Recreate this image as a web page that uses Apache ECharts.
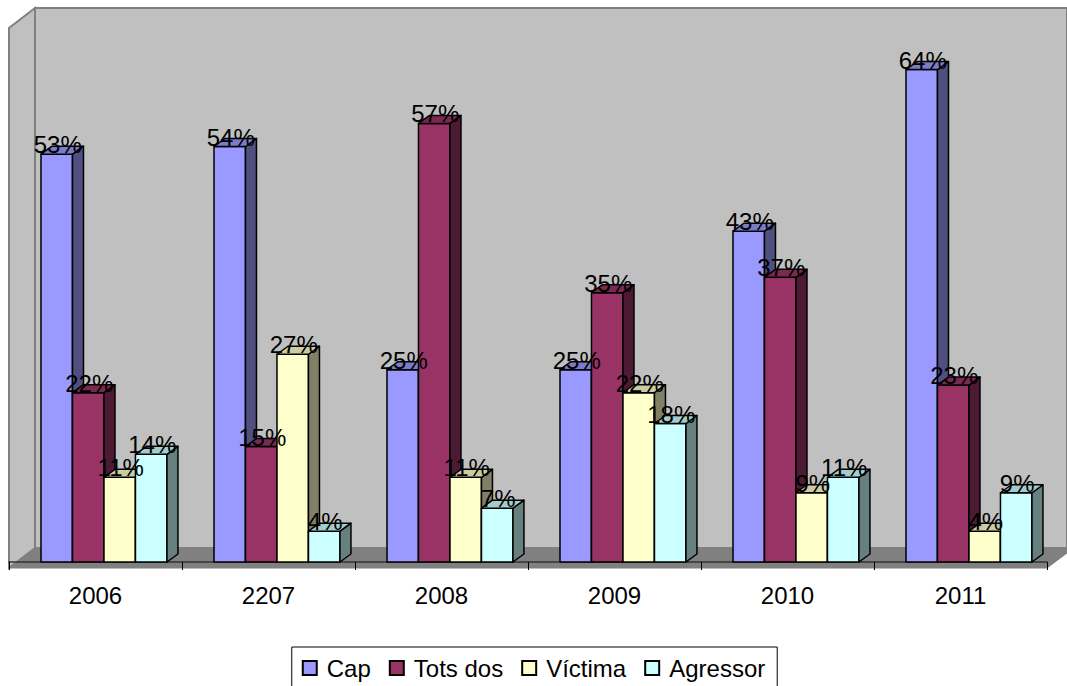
<!DOCTYPE html>
<html>
<head>
<meta charset="utf-8">
<script src="https://cdn.jsdelivr.net/npm/echarts@6/dist/echarts.min.js"></script>
<style>
html,body{margin:0;padding:0;background:#fff;}
#chart{width:1067px;height:686px;}
</style>
</head>
<body>
<div id="chart"></div>
<script>
// ---- data ----
const categories = ['2006', '2207', '2008', '2009', '2010', '2011'];
const seriesNames = ['Cap', 'Tots dos', 'Víctima', 'Agressor'];
const capValues = [53, 54, 25, 25, 43, 64];
const totsDosValues = [22, 15, 57, 35, 37, 23];
const victimaValues = [11, 27, 11, 22, 9, 4];
const agressorValues = [14, 4, 7, 18, 11, 9];

// ---- styles ----
const FONT = '"Liberation Sans", Arial, sans-serif';
const palettes = [
  { front: '#9999FF', top: '#7B7BCC', side: '#4F4F80' },
  { front: '#993366', top: '#7A2952', side: '#4D1A33' },
  { front: '#FFFFCC', top: '#CCCCA3', side: '#808066' },
  { front: '#CCFFFF', top: '#A3CCCC', side: '#668080' }
];
const allValues = [capValues, totsDosValues, victimaValues, agressorValues];
const DX = 11, DY = 8;

function barGeom(api, j) {
  const i = api.value(0), v = api.value(1);
  const base = api.coord([i, 0]);
  const top = api.coord([i, v]);
  const w = api.size([1, 0])[0];
  const bw = w * 0.182;
  const left = base[0] - w * 0.315 + j * bw;
  return { left, bw, yTop: top[1], yBase: base[1] };
}

function makeBarRender(j) {
  const p = palettes[j];
  return function (params, api) {
    const g = barGeom(api, j);
    const stroke = { stroke: '#000', lineWidth: 1.5, lineJoin: 'round' };
    return {
      type: 'group',
      children: [
        { type: 'rect', shape: { x: g.left, y: g.yTop, width: g.bw, height: g.yBase - g.yTop },
          style: Object.assign({ fill: p.front }, stroke) },
        { type: 'polygon', shape: { points: [[g.left + g.bw, g.yTop], [g.left + g.bw + DX, g.yTop - DY], [g.left + g.bw + DX, g.yBase - DY], [g.left + g.bw, g.yBase]] },
          style: Object.assign({ fill: p.side }, stroke) },
        { type: 'polygon', shape: { points: [[g.left, g.yTop], [g.left + DX, g.yTop - DY], [g.left + g.bw + DX, g.yTop - DY], [g.left + g.bw, g.yTop]] },
          style: Object.assign({ fill: p.top }, stroke) }
      ]
    };
  };
}

function makeLabelRender(j) {
  return function (params, api) {
    const g = barGeom(api, j);
    return {
      type: 'text',
      x: g.left + g.bw / 2 + 1,
      y: g.yTop - 9.5,
      style: { text: api.value(1) + '%', fill: '#000', font: '24px ' + FONT, align: 'center', verticalAlign: 'middle' }
    };
  };
}

const series = [];
allValues.forEach((vals, j) => {
  series.push({
    name: seriesNames[j], type: 'custom', z: 3,
    itemStyle: { color: palettes[j].front, borderColor: '#000', borderWidth: 1 },
    renderItem: makeBarRender(j),
    data: vals.map((v, i) => [i, v])
  });
});
allValues.forEach((vals, j) => {
  series.push({
    name: seriesNames[j] + ' label', type: 'custom', z: 5, silent: true,
    renderItem: makeLabelRender(j),
    data: vals.map((v, i) => [i, v])
  });
});

const chart = echarts.init(document.getElementById('chart'), null, { renderer: 'svg' });
chart.setOption({
  animation: false,
  backgroundColor: '#fff',
  textStyle: { fontFamily: FONT },
  graphic: [
    { type: 'polygon', z: -10, shape: { points: [[35, 8], [1067, 8], [1067, 548], [35, 548]] },
      style: { fill: '#C0C0C0', stroke: '#808080', lineWidth: 2 } },
    { type: 'polygon', z: -10, shape: { points: [[9, 28], [35, 8], [35, 548], [9, 568]] },
      style: { fill: '#C0C0C0', stroke: '#808080', lineWidth: 2 } },
    { type: 'polygon', z: -9, shape: { points: [[9, 568], [35, 548], [1067, 548], [1067, 553], [1047, 568]] },
      style: { fill: '#808080', stroke: '#808080', lineWidth: 1 } }
  ],
  grid: { left: 9, right: 20, top: 8, bottom: 124, containLabel: false },
  legend: {
    data: seriesNames,
    top: 647, left: 'center',
    padding: [8, 12, 8, 10],
    borderColor: '#000', borderWidth: 1,
    icon: 'rect', itemWidth: 14, itemHeight: 14, itemGap: 18,
    textStyle: { fontSize: 24, color: '#000', fontFamily: FONT, lineHeight: 26, padding: [0, 0, 0, 5] }
  },
  xAxis: {
    type: 'category', data: categories, boundaryGap: true, offset: 6,
    axisLine: { lineStyle: { color: '#333', width: 1.5 } },
    axisTick: { show: true, length: 8, lineStyle: { color: '#000' } },
    axisLabel: { fontSize: 24, color: '#000', margin: 15, fontFamily: FONT },
    splitLine: { show: false }
  },
  yAxis: { type: 'value', min: 0, max: 72, show: false, splitLine: { show: false } },
  series: series
});
</script>
</body>
</html>
